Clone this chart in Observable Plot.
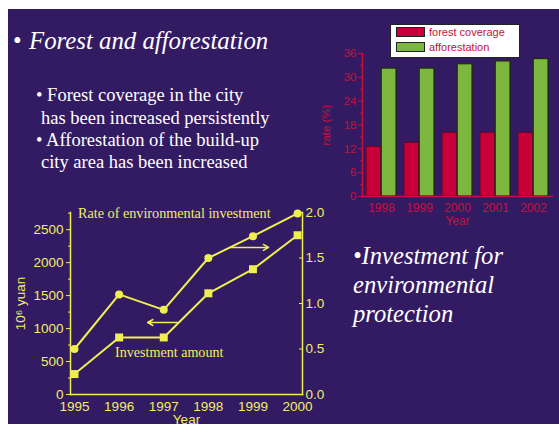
<!DOCTYPE html>
<html><head><meta charset="utf-8">
<script src="https://cdn.jsdelivr.net/npm/d3@7"></script>
<script src="https://cdn.jsdelivr.net/npm/@observablehq/plot@0.6"></script>
<style>
html,body{margin:0;padding:0;background:#fff;width:559px;height:424px;overflow:hidden;}
#slide{position:absolute;left:8px;top:9px;width:551px;height:415px;background:#331b63;}
.t{position:absolute;color:#fff;font-family:"Liberation Serif","Times New Roman",serif;white-space:nowrap;}
.chart{position:absolute;}
#legend{position:absolute;left:390px;top:24px;width:128px;height:32px;background:#fff;border:1px solid #222;font-family:"Liberation Sans",Arial,sans-serif;font-size:11px;color:#c8103c;}
#legend .row{position:absolute;left:5px;height:11px;line-height:11px;}
#legend .sw{display:inline-block;width:29px;height:10px;border:1px solid #222;vertical-align:top;margin-right:4px;box-sizing:border-box;}
</style></head><body>
<div id="slide"></div>

<div class="t" style="left:13px;top:29px;font-size:24.8px;line-height:24.8px;">&bull;</div>
<div class="t" style="left:29px;top:29.2px;font-size:24.8px;line-height:24.8px;font-style:italic;">Forest and afforestation</div>

<div class="t" style="left:36px;top:86px;font-size:18.5px;line-height:18.5px;">&bull; Forest coverage in the city</div>
<div class="t" style="left:41px;top:108.5px;font-size:18.5px;line-height:18.5px;">has been increased persistently</div>
<div class="t" style="left:36px;top:131px;font-size:18.5px;line-height:18.5px;">&bull; Afforestation of the build-up</div>
<div class="t" style="left:41px;top:153px;font-size:18.5px;line-height:18.5px;">city area has been increased</div>

<div class="t" style="left:353px;top:243.5px;font-size:24.6px;line-height:24.6px;font-style:italic;">&bull;Investment for</div>
<div class="t" style="left:353px;top:272.5px;font-size:24.6px;line-height:24.6px;font-style:italic;">environmental</div>
<div class="t" style="left:353px;top:301.5px;font-size:24.6px;line-height:24.6px;font-style:italic;">protection</div>

<div id="bars" class="chart" style="left:320px;top:20px;"></div>
<div id="lines" class="chart" style="left:0px;top:195px;"></div>

<div class="t" style="left:78px;top:205.5px;font-size:14.2px;line-height:14.2px;color:#f0ee66;">Rate of environmental investment</div>
<div class="t" style="left:115px;top:345px;font-size:14.1px;line-height:14.1px;color:#f0ee66;">Investment amount</div>

<div id="legend">
  <div class="row" style="top:2px;"><span class="sw" style="background:#c8003a;"></span><span id="lg1"></span></div>
  <div class="row" style="top:17px;"><span class="sw" style="background:#7cb840;"></span><span id="lg2"></span></div>
</div>

<script>
// ---- Bar chart data ----
const barYears = [1998, 1999, 2000, 2001, 2002];
const forestCoverage = [12.5, 13.5, 16.0, 16.0, 16.0];
const afforestation = [32.2, 32.2, 33.3, 34.0, 34.6];
const seriesNames = ["forest coverage", "afforestation"];
const barYTicks = [0, 6, 12, 18, 24, 30, 36];

// ---- Line chart data ----
const lineYears = [1995, 1996, 1997, 1998, 1999, 2000];
const investmentAmount = [310, 865, 865, 1535, 1900, 2415];
const investmentRate = [0.50, 1.10, 0.93, 1.50, 1.74, 1.99];
const amountTicks = [0, 500, 1000, 1500, 2000, 2500];
const rateTicks = [0.0, 0.5, 1.0, 1.5, 2.0];

document.getElementById("lg1").textContent = seriesNames[0];
document.getElementById("lg2").textContent = seriesNames[1];

const RED = "#c8003a", GREEN = "#7cb840", AXR = "#c8103c";
const bw = 239, bh = 210, bml = 42, bmr = 7, bmt = 33, bmb = 34;
const pIn = 0.2, pOut = 0.1;
const step = (bw - bml - bmr) / (barYears.length - pIn + 2 * pOut);
const half = step * (1 - pIn) / 2;

const redRows = barYears.map((y, i) => ({year: y, value: forestCoverage[i]}));
const greenRows = barYears.map((y, i) => ({year: y, value: afforestation[i]}));

const bars = Plot.plot({
  width: bw, height: bh,
  marginLeft: bml, marginRight: bmr, marginTop: bmt, marginBottom: bmb,
  style: {background: "transparent", color: AXR, fontFamily: "'Liberation Sans', Arial, sans-serif", fontSize: "11.5px"},
  x: {type: "band", domain: barYears, paddingInner: pIn, paddingOuter: pOut},
  y: {domain: [0, 36]},
  marks: [
    Plot.barY(redRows, {x: "year", y: "value", fill: RED, stroke: "#6a0628", strokeWidth: 1.2, insetRight: half}),
    Plot.barY(greenRows, {x: "year", y: "value", fill: GREEN, stroke: "#1e2a10", strokeWidth: 1.2, insetLeft: half}),
    Plot.axisY({ticks: barYTicks, tickSize: 4, tickPadding: 2, tickFormat: d => String(d), label: "rate (%)", labelArrow: "none", labelAnchor: "center", labelOffset: 41, stroke: AXR}),
    Plot.axisY({ticks: d3.range(3, 36, 6), tickSize: 2, tickFormat: () => "", label: null, stroke: AXR}),
    Plot.axisX({tickSize: 0, tickPadding: 6.5, tickFormat: d => String(d), label: "Year", labelArrow: "none", labelAnchor: "center", labelOffset: 28, fontSize: "12px"}),
    Plot.frame({anchor: "left", stroke: AXR, strokeWidth: 1.5}),
    Plot.frame({anchor: "bottom", stroke: AXR, strokeWidth: 1.5})
  ]
});
document.getElementById("bars").appendChild(bars);

// ---- Line chart ----
const YEL = "#efef50", YTXT = "#f0ee66";
const yMax = 2760;
const F = yMax / 2; // right axis 0..2 maps to left 0..yMax
const amountRows = lineYears.map((y, i) => ({year: y, v: investmentAmount[i]}));
const rateRows = lineYears.map((y, i) => ({year: y, v: investmentRate[i] * F}));

const arrows = [
  {x1: 1998.5, y1: 2230, x2: 1999.35, y2: 2230},
  {x1: 1997.31, y1: 1092, x2: 1996.64, y2: 1092}
];

const lines = Plot.plot({
  width: 340, height: 229,
  marginLeft: 70, marginRight: 38, marginTop: 17, marginBottom: 30,
  style: {background: "transparent", color: YTXT, fontFamily: "'Liberation Sans', Arial, sans-serif", fontSize: "13.5px"},
  x: {type: "linear", domain: [1995 - 0.09, 2000 + 0.11]},
  y: {domain: [0, yMax]},
  marks: [
    Plot.frame({anchor: "left", stroke: YEL, strokeWidth: 1.5}),
    Plot.frame({anchor: "right", stroke: YEL, strokeWidth: 1.5}),
    Plot.frame({anchor: "bottom", stroke: YEL, strokeWidth: 1.5}),
    Plot.axisY({ticks: amountTicks, tickSize: 4, tickPadding: 3, tickFormat: d => String(d), label: "10⁶ yuan", labelArrow: "none", labelAnchor: "center", labelOffset: 55, stroke: YEL}),
    Plot.axisY({ticks: d3.range(250, yMax, 500), tickSize: 2, tickFormat: () => "", label: null, stroke: YEL}),
    Plot.axisY({anchor: "right", ticks: rateTicks.map(t => t * F), tickSize: 0, tickPadding: 3, tickFormat: d => (d / F).toFixed(1), label: null}),
    Plot.axisY({anchor: "right", ticks: rateTicks.map(t => t * F), tickSize: 4, dx: -4, tickFormat: () => "", label: null, stroke: YEL}),
    Plot.axisX({ticks: lineYears, tickSize: 0, tickPadding: 7, tickFormat: d => String(d), label: "Year", labelArrow: "none", labelAnchor: "center", labelOffset: 29}),
    Plot.line(rateRows, {x: "year", y: "v", stroke: YEL, strokeWidth: 2}),
    Plot.line(amountRows, {x: "year", y: "v", stroke: YEL, strokeWidth: 2}),
    Plot.dot(rateRows, {x: "year", y: "v", fill: YEL, r: 4}),
    Plot.dot(amountRows, {x: "year", y: "v", fill: YEL, symbol: "square", r: 4.5}),
    Plot.arrow(arrows, {x1: "x1", y1: "y1", x2: "x2", y2: "y2", stroke: YEL, strokeWidth: 1.5, headLength: 6})
  ]
});
document.getElementById("lines").appendChild(lines);
</script>
</body></html>
